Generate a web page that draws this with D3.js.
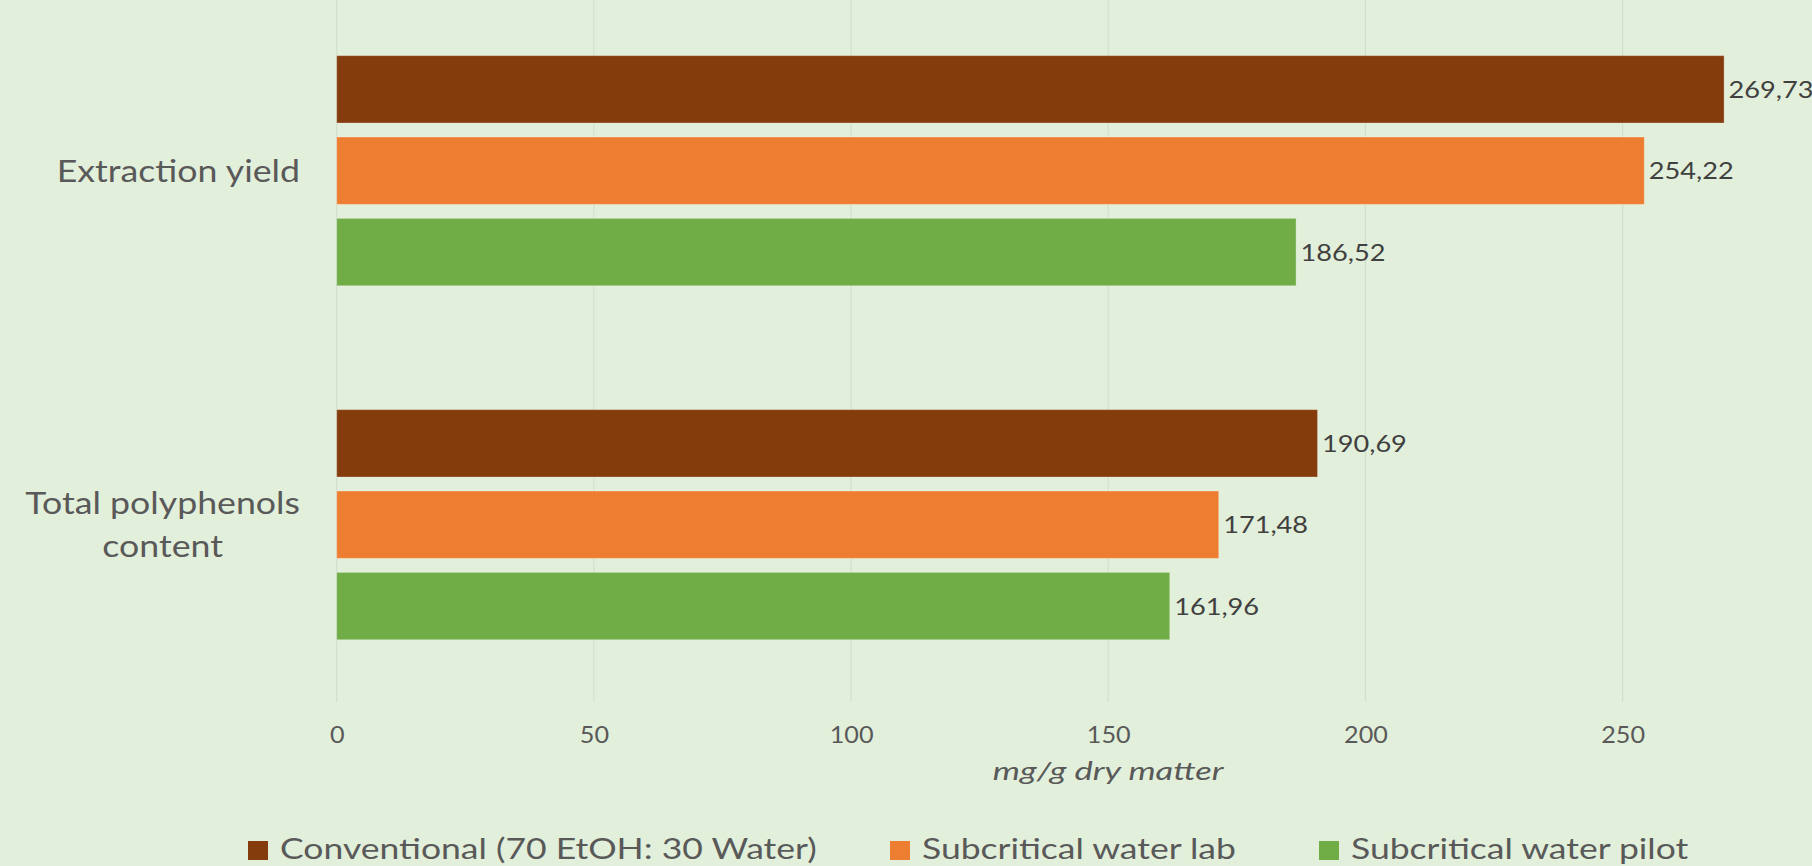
<!DOCTYPE html>
<html>
<head>
<meta charset="utf-8">
<script src="https://cdn.jsdelivr.net/npm/d3@7"></script>
<style>
  html, body { margin: 0; padding: 0; background: #E2EFDA; }
  svg { display: block; font-family: Lato, "Open Sans", sans-serif; }
</style>
</head>
<body>
<svg id="chart" width="1812" height="866"></svg>
<script>
// Categories (top to bottom) and the three extraction methods
const categories = ["Extraction yield", "Total polyphenols content"];
const categoryLines = [["Extraction yield"], ["Total polyphenols", "content"]];
const seriesNames = ["Conventional (70 EtOH: 30 Water)", "Subcritical water lab", "Subcritical water pilot"];
const seriesColors = ["#843C0C", "#ED7D31", "#70AD47"];

// Values in mg/g dry matter, per series, in category order
const conventional = [269.73, 190.69];
const subcriticalLab = [254.22, 171.48];
const subcriticalPilot = [186.52, 161.96];

const xTicks = [0, 50, 100, 150, 200, 250];
const xTitle = "mg/g dry matter";

const seriesValues = [conventional, subcriticalLab, subcriticalPilot];
const rows = [];
categories.forEach((c, ci) => {
  seriesNames.forEach((s, si) => rows.push({ category: c, series: s, value: seriesValues[si][ci], color: seriesColors[si] }));
});

const svg = d3.select("#chart");
// The value axis runs to 300; its right end lies past the visible canvas
const plot = { left: 336.7, right: 1879.8, top: -6.3, bottom: 701.7 };

const x = d3.scaleLinear().domain([0, 300]).range([plot.left, plot.right]);
const y0 = d3.scaleBand().domain(categories).range([plot.top, plot.bottom])
  .paddingInner(0.35).paddingOuter(0.175);
const y1 = d3.scaleBand().domain(seriesNames).range([0, y0.bandwidth()])
  .paddingInner(0.172).paddingOuter(0);

// Widen glyphs horizontally about the text's anchor point
function widen(sel, k) {
  sel.each(function () {
    const t = d3.select(this);
    const ax = +t.attr("x") || 0;
    t.attr("transform", `translate(${ax},0) scale(${k},1) translate(${-ax},0)`);
  });
}

// Vertical gridlines
svg.append("g")
  .selectAll("line")
  .data(xTicks)
  .join("line")
  .attr("x1", d => x(d)).attr("x2", d => x(d))
  .attr("y1", plot.top).attr("y2", plot.bottom)
  .attr("stroke", "#D3DFCD")
  .attr("stroke-width", 1.2);

// Tick labels along the bottom
const xAxis = d3.axisBottom(x).tickValues(xTicks).tickSize(0).tickPadding(0);
const axisG = svg.append("g").attr("transform", `translate(0,${plot.bottom})`).call(xAxis);
axisG.select(".domain").remove();
axisG.selectAll("text")
  .attr("x", 0)
  .attr("y", 41.5)
  .attr("dy", 0)
  .attr("fill", "#595959")
  .style("font-size", "22.5px")
  .style("font-family", "Lato, sans-serif")
  .call(widen, 1.12);

// Axis title
svg.append("text")
  .attr("x", (plot.left + plot.right) / 2)
  .attr("y", 780)
  .attr("text-anchor", "middle")
  .attr("fill", "#595959")
  .style("font-size", "25px")
  .style("font-style", "italic")
  .text(xTitle)
  .call(widen, 1.38);

// Bars
svg.append("g")
  .selectAll("rect")
  .data(rows)
  .join("rect")
  .attr("x", x(0))
  .attr("y", d => y0(d.category) + y1(d.series))
  .attr("width", d => x(d.value) - x(0))
  .attr("height", y1.bandwidth())
  .attr("fill", d => d.color)
  .attr("stroke", "rgba(255,255,255,0.3)")
  .attr("stroke-width", 1);

// Value labels, written with a decimal comma
const fmt = v => v.toFixed(2).replace(".", ",");
svg.append("g")
  .selectAll("text")
  .data(rows)
  .join("text")
  .attr("x", d => x(d.value) + 4.5)
  .attr("y", d => y0(d.category) + y1(d.series) + y1.bandwidth() / 2 + 8.8)
  .attr("fill", "#404040")
  .style("font-size", "23px")
  .text(d => fmt(d.value))
  .call(widen, 1.18);

// Category labels: block right-aligned, wrapped lines centred within it
const catG = svg.append("g");
const catK = 1.19;
categories.forEach((c, i) => {
  const lines = categoryLines[i];
  const cy = y0(c) + y0.bandwidth() / 2;
  const lh = 42.4;
  const texts = lines.map((ln, j) => catG.append("text")
    .attr("y", cy + 11 + (j - (lines.length - 1) / 2) * lh)
    .attr("fill", "#595959")
    .attr("text-anchor", "middle")
    .style("font-size", "30px")
    .text(ln));
  const w = d3.max(texts, t => t.node().getComputedTextLength()) * catK;
  texts.forEach(t => t.attr("x", 300 - w / 2).call(widen, catK));
});

// Legend
const legendX = [248, 890, 1319];
const legend = svg.append("g");
seriesNames.forEach((s, i) => {
  legend.append("rect")
    .attr("x", legendX[i]).attr("y", 841)
    .attr("width", 20).attr("height", 19)
    .attr("fill", seriesColors[i]);
  legend.append("text")
    .attr("x", legendX[i] + 32).attr("y", 859.5)
    .attr("fill", "#595959")
    .style("font-size", "29px")
    .text(s)
    .call(widen, 1.225);
});
</script>
</body>
</html>
